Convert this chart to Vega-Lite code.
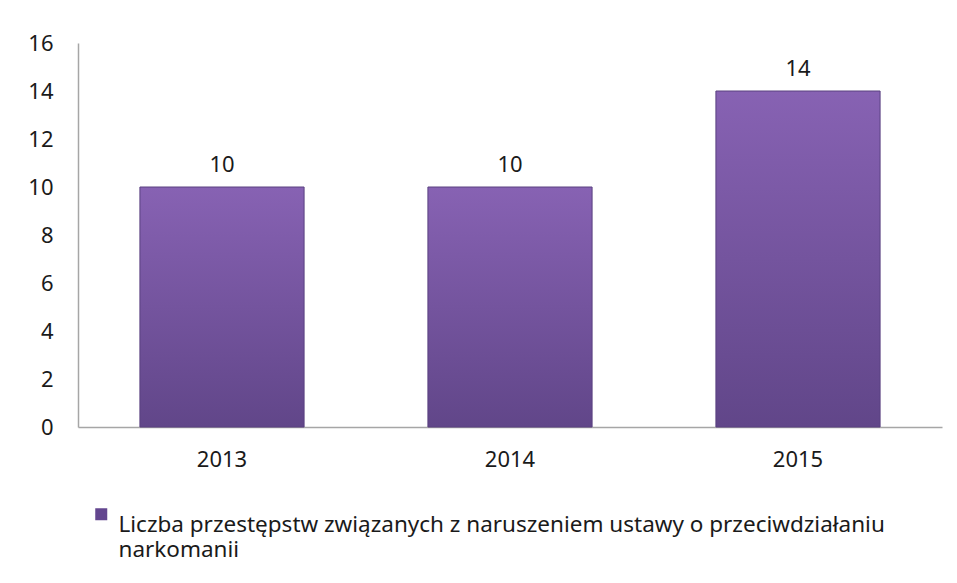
{
  "$schema": "https://vega.github.io/schema/vega-lite/v6.json",
  "autosize": {"type": "none"},
  "width": 864,
  "height": 384,
  "padding": {"left": 78, "top": 43, "right": 15, "bottom": 156},
  "background": "white",
  "config": {
    "view": {"stroke": null},
    "font": "Noto Sans",
    "legend": {"labelLineHeight": 26}
  },
  "data": {
    "values": [
      {"rok": "2013", "liczba": 10, "seria": "Liczba przestępstw związanych z naruszeniem ustawy o przeciwdziałaniu|narkomanii"},
      {"rok": "2014", "liczba": 10, "seria": "Liczba przestępstw związanych z naruszeniem ustawy o przeciwdziałaniu|narkomanii"},
      {"rok": "2015", "liczba": 14, "seria": "Liczba przestępstw związanych z naruszeniem ustawy o przeciwdziałaniu|narkomanii"}
    ]
  },
  "encoding": {
    "x": {
      "field": "rok", "type": "nominal",
      "scale": {"paddingInner": 0.43, "paddingOuter": 0.215},
      "axis": {
        "title": null, "labelAngle": 0, "ticks": false, "domainColor": "#a6a6a6", "domainWidth": 1.5,
        "labelFontSize": 22, "labelColor": "#1a1a1a", "labelPadding": 22
      }
    },
    "y": {
      "field": "liczba", "type": "quantitative",
      "scale": {"domain": [0, 16]},
      "axis": {
        "title": null, "values": [0, 2, 4, 6, 8, 10, 12, 14, 16], "grid": false, "ticks": false,
        "domainColor": "#a6a6a6", "domainWidth": 1.5,
        "labelFontSize": 22, "labelColor": "#1a1a1a", "labelPadding": 25
      }
    }
  },
  "layer": [
    {
      "mark": {
        "type": "bar",
        "fill": {
          "gradient": "linear", "x1": 0, "y1": 0, "x2": 0, "y2": 1,
          "stops": [
            {"offset": 0, "color": "#8762b3"},
            {"offset": 1, "color": "#614689"}
          ]
        },
        "stroke": "#5a4080",
        "strokeWidth": 1
      },
      "encoding": {
        "color": {
          "field": "seria", "type": "nominal",
          "scale": {"range": ["#63468f"]},
          "legend": {
            "title": null, "orient": "none", "legendX": 12, "legendY": 460,
            "symbolType": "square", "symbolSize": 144, "symbolStrokeWidth": 0,
            "labelFontSize": 22.5, "labelColor": "#1a1a1a", "labelLimit": 900,
            "labelOffset": 6, "labelBaseline": "top",
            "labelExpr": "split(datum.label, '|')"
          }
        }
      }
    },
    {
      "mark": {"type": "text", "dy": -22, "fontSize": 22, "color": "#1a1a1a"},
      "encoding": {"text": {"field": "liczba", "type": "quantitative"}}
    }
  ]
}
